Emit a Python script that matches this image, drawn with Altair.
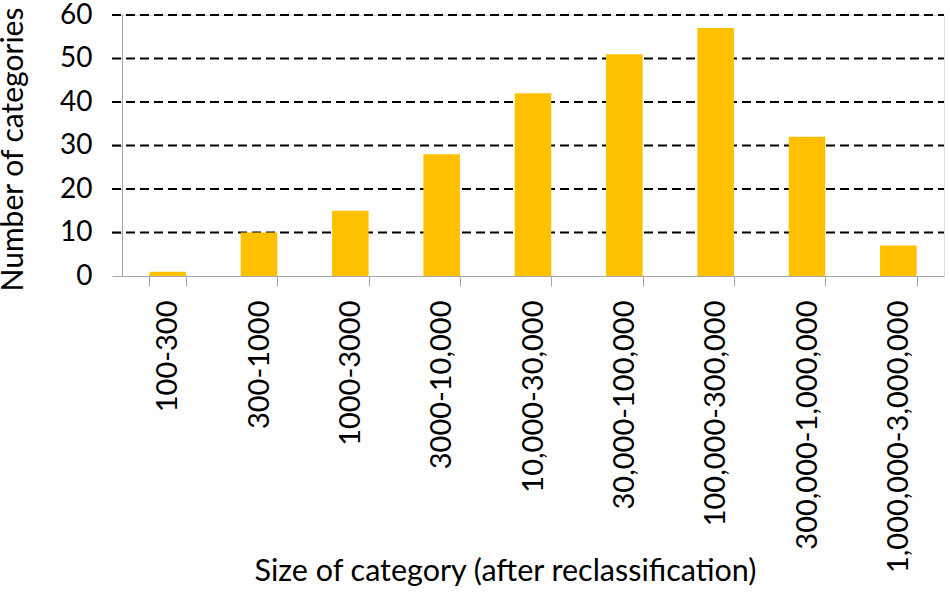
import altair as alt
import pandas as pd

categories = ["100-300", "300-1000", "1000-3000", "3000-10,000", "10,000-30,000",
              "30,000-100,000", "100,000-300,000", "300,000-1,000,000", "1,000,000-3,000,000"]
counts = [1, 10, 15, 28, 42, 51, 57, 32, 7]
y_ticks = [0, 10, 20, 30, 40, 50, 60]
grid_values = [10, 20, 30, 40, 50, 60]

df = pd.DataFrame({"cat": categories, "n": counts})
grid_df = pd.DataFrame({"g": grid_values})

FONT = "Lato"

x_enc = alt.X("cat:N", sort=categories,
              scale=alt.Scale(paddingInner=0.6, paddingOuter=0.3),
              axis=alt.Axis(title="Size of category (after reclassification)",
                            labelAngle=-90, labelAlign="right", labelBaseline="middle",
                            labelFontSize=29, labelFont=FONT, labelColor="black",
                            labelPadding=14, labelLimit=0, tickBand="extent", tickSize=10,
                            tickColor="#a6a6a6", domainColor="#a6a6a6",
                            titleFont=FONT, titleFontSize=30.5, titleFontWeight="normal",
                            titleColor="black", titleX=383, titleY=304,
                            titleAlign="center", titleBaseline="alphabetic",
                            labelOverlap=False, grid=False))

y_scale = alt.Scale(domain=[0, 60], nice=False)

bars = alt.Chart(df).mark_bar(color="#FFC000").encode(
    x=x_enc,
    y=alt.Y("n:Q", scale=y_scale,
            axis=alt.Axis(title="Number of categories", values=y_ticks,
                          labelFontSize=28, labelFont=FONT, labelColor="black",
                          labelPadding=20, tickSize=10, tickColor="#a6a6a6",
                          domainColor="#a6a6a6", grid=False,
                          titleFont=FONT, titleFontSize=30, titleFontWeight="normal",
                          titleColor="black", titleX=-100, titleY=134,
                          titleAlign="center", titleBaseline="alphabetic",
                          titleAngle=-90)),
)

grid = alt.Chart(grid_df).mark_rule(color="black", strokeWidth=2, strokeDash=[9, 5]).encode(
    y=alt.Y("g:Q", scale=y_scale),
    x=alt.value(-10),
    x2=alt.value(822),
)

chart = alt.layer(grid, bars).properties(
    width=822, height=261,
    padding={"left": 122, "top": 15, "right": 6, "bottom": 324},
    autosize=alt.AutoSizeParams(type="none"),
).configure_view(stroke=None).configure(background="white")

chart.save("out.html", embed_options={"renderer": "svg", "actions": False})
